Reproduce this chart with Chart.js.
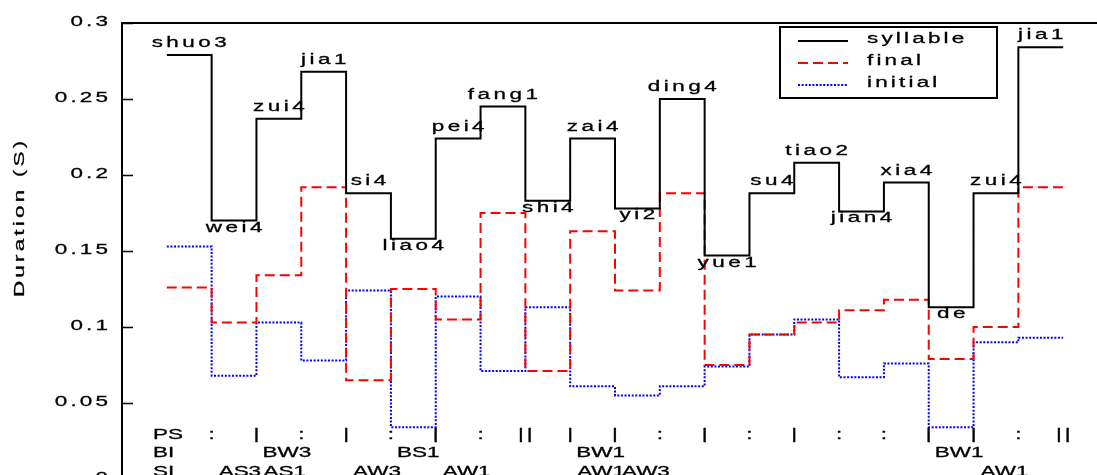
<!DOCTYPE html>
<html>
<head>
<meta charset="utf-8">
<script src="https://cdn.jsdelivr.net/npm/chart.js@4.4.0/dist/chart.umd.min.js"></script>
<style>
  html, body { margin: 0; padding: 0; background: #fff; overflow: hidden; }
  #wrap { width: 1120px; height: 500px; }
</style>
</head>
<body>
<div id="wrap"><canvas id="durChart" width="1120" height="500"></canvas></div>
<script>

// syllables of the sentence, one step each
const syllables = ['shuo3', 'wei4', 'zui4', 'jia1', 'si4', 'liao4', 'pei4', 'fang1', 'shi4', 'zai4',
  'yi2', 'ding4', 'yue1', 'su4', 'tiao2', 'jian4', 'xia4', 'de', 'zui4', 'jia1'];

// durations in seconds
const syllableDur = [0.279, 0.170, 0.237, 0.268, 0.188, 0.158, 0.224, 0.245, 0.183, 0.224,
  0.178, 0.250, 0.147, 0.188, 0.208, 0.176, 0.195, 0.113, 0.188, 0.284];
const finalDur = [0.126, 0.103, 0.134, 0.192, 0.065, 0.125, 0.105, 0.175, 0.071, 0.163,
  0.124, 0.188, 0.075, 0.095, 0.103, 0.111, 0.118, 0.079, 0.100, 0.192];
const initialDur = [0.153, 0.068, 0.103, 0.078, 0.124, 0.034, 0.120, 0.071, 0.113, 0.061,
  0.055, 0.061, 0.074, 0.095, 0.105, 0.067, 0.076, 0.034, 0.090, 0.093];

// annotation rows under the curves
const psMarks = [':', '|', ':', '|', ':', '|', ':', '||', '|', '|', ':', '|', ':', '|', ':', ':', '|', '|', ':', '||'];
const biMarks = ['', '', 'BW3', '', '', 'BS1', '', '', '', 'BW1', '', '', '', '', '', '', '', 'BW1', '', ''];
const siMarks = ['', 'AS3', 'AS1', '', 'AW3', '', 'AW1', '', '', 'AW1', 'AW3', '', '', '', '', '', '', '', 'AW1', ''];

const yTicks = [0, 0.05, 0.1, 0.15, 0.2, 0.25, 0.3];
const yTickLabels = ['0', '0.05', '0.1', '0.15', '0.2', '0.25', '0.3'];

// old matlab export: text is stretched wide
const SX = 1.45;
const FONT = '15.5px "Liberation Sans", Arial, sans-serif';

function steps(vals) {
  let pts = vals.map((v, i) => ({ x: i + 1, y: v }));
  pts.push({ x: vals.length + 1, y: vals[vals.length - 1] });
  return pts;
}

function txt(ctx, s, x, y, align, ls, rot) {
  ctx.save();
  ctx.font = FONT;
  ctx.letterSpacing = ls + 'px';
  ctx.textBaseline = 'alphabetic';
  ctx.textAlign = 'left';
  const w = (ctx.measureText(s).width - ls) * SX;
  let x0 = 0;
  if (align === 'center') x0 = -w / 2;
  if (align === 'right') x0 = -w;
  ctx.translate(x, y);
  if (rot) ctx.rotate(rot);
  ctx.translate(x0, 0);
  ctx.scale(SX, 1);
  ctx.fillStyle = '#000';
  ctx.strokeStyle = '#000';
  ctx.lineWidth = 0.3;
  ctx.fillText(s, 0, 0);
  ctx.strokeText(s, 0, 0);
  ctx.restore();
}

const decor = {
  id: 'decor',
  afterDatasetsDraw(chart) {
    const ctx = chart.ctx;
    const area = chart.chartArea;
    const xs = chart.scales.x;
    const ys = chart.scales.y;

    // box lines
    ctx.save();
    ctx.strokeStyle = '#000';
    ctx.lineWidth = 2;
    ctx.beginPath();
    ctx.moveTo(area.left, area.bottom + 5);
    ctx.lineTo(area.left, area.top);
    ctx.lineTo(area.right, area.top);
    ctx.stroke();

    // y ticks, inward
    ctx.lineWidth = 1.5;
    yTicks.forEach(t => {
      const py = Math.round(ys.getPixelForValue(t)) + 0.5;
      ctx.beginPath();
      ctx.moveTo(area.left, py);
      ctx.lineTo(area.left + 11, py);
      ctx.stroke();
    });
    ctx.restore();

    yTicks.forEach((t, i) => {
      txt(ctx, yTickLabels[i], area.left - 14, ys.getPixelForValue(t) + 3, 'right', 2.2);
    });

    // y title
    txt(ctx, 'Duration (S)', 24, 219, 'center', 2.2, -Math.PI / 2);

    // syllable names, below the step if it is a valley
    syllables.forEach((s, i) => {
      const v = syllableDur[i];
      const prev = i > 0 ? syllableDur[i - 1] : Infinity;
      const next = i < syllableDur.length - 1 ? syllableDur[i + 1] : Infinity;
      const py = ys.getPixelForValue(v);
      const px = xs.getPixelForValue(i + 1.5);
      if (v < prev && v < next) txt(ctx, s, px, py + 11, 'center', 2.4);
      else txt(ctx, s, px, py - 8, 'center', 2.4);
    });

    // PS / BI / SI rows
    const b = ys.getPixelForValue(0);
    txt(ctx, 'PS', 153, b - 40, 'left', 0);
    txt(ctx, 'BI', 153, b - 22, 'left', 0);
    txt(ctx, 'SI', 153, b - 3, 'left', 0);
    psMarks.forEach((m, i) => {
      txt(ctx, m, xs.getPixelForValue(i + 2), b - 40, 'center', 2);
    });
    biMarks.forEach((m, i) => {
      if (m) txt(ctx, m, xs.getPixelForValue(i + 1) + 6, b - 22, 'left', 0);
    });
    siMarks.forEach((m, i) => {
      if (m) txt(ctx, m, xs.getPixelForValue(i + 1) + 7, b - 3, 'left', 0);
    });

    // legend
    ctx.save();
    ctx.fillStyle = '#fff';
    ctx.fillRect(780, 27, 217, 71);
    ctx.strokeStyle = '#000';
    ctx.lineWidth = 2;
    ctx.strokeRect(780, 27, 217, 71);
    chart.data.datasets.forEach((ds, i) => {
      const ly = 41 + i * 22;
      ctx.save();
      ctx.strokeStyle = ds.borderColor;
      ctx.lineWidth = ds.borderWidth;
      ctx.setLineDash(ds.borderDash || []);
      ctx.beginPath();
      ctx.moveTo(798, ly);
      ctx.lineTo(848, ly);
      ctx.stroke();
      ctx.restore();
      txt(ctx, ds.label, 867, ly + 2, 'left', 2.2);
    });
    ctx.restore();
  }
};

const durChart = new Chart('durChart', {
  type: 'line',
  data: {
    datasets: [{
      label: 'syllable',
      data: steps(syllableDur),
      stepped: 'before',
      borderColor: '#000000',
      borderWidth: 2,
      fill: false
    }, {
      label: 'final',
      data: steps(finalDur),
      stepped: 'before',
      borderColor: '#ff0000',
      borderWidth: 2,
      borderDash: [10, 5],
      fill: false
    }, {
      label: 'initial',
      data: steps(initialDur),
      stepped: 'before',
      borderColor: '#0000ff',
      borderWidth: 2,
      borderDash: [2, 1.6],
      fill: false
    }]
  },
  options: {
    responsive: false,
    animation: false,
    layout: { padding: { left: 122, top: 23, right: 12, bottom: 21 } },
    elements: { point: { radius: 0 }, line: { borderJoinStyle: 'miter' } },
    scales: {
      x: { type: 'linear', min: 0, max: 22, display: false },
      y: { min: 0, max: 0.3, display: false }
    },
    plugins: {
      legend: { display: false },
      tooltip: { enabled: false }
    }
  },
  plugins: [decor]
});

</script>
</body>
</html>
